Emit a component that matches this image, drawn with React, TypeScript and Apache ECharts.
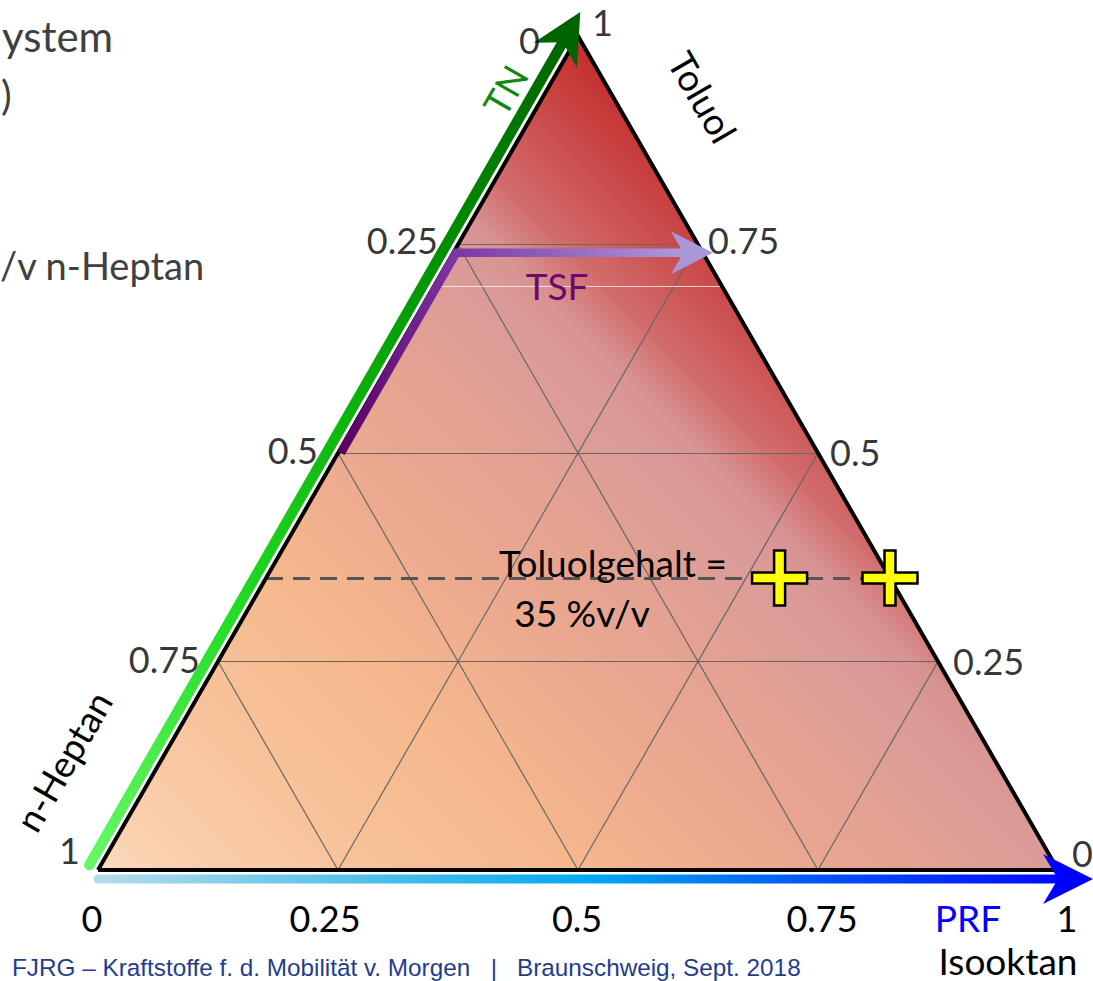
import React, { useEffect, useRef } from 'react';
import * as echarts from 'echarts';

const FONT = 'Lato, "Open Sans", sans-serif';
const FOOT_FONT = '"Liberation Sans", Arial, sans-serif';

// Composition given as [Toluol, Isooktan]; n-Heptan = 1 - Toluol - Isooktan
const cornerToluol = [0, 0, 1, 0];
const cornerIsooktan = [0, 1, 0, 0];
const gridLevels = [0.25, 0.5, 0.75];
const bottomTickLabels = ['0', '0.25', '0.5', '0.75', '1'];
const leftEdgeToluol = [1, 0.75, 0.5, 0.25, 0];
const leftEdgeLabels = ['0', '0.25', '0.5', '0.75', '1']; // n-Heptan share on TN axis
const rightEdgeToluol = [1, 0.75, 0.5, 0.25, 0];
const rightEdgeLabels = ['1', '0.75', '0.5', '0.25', '0']; // Toluol share
const toluolgehalt = 0.35;
const markerToluol = [0.35, 0.35];
const markerIsooktan = [0.535, 0.65];
const tsfToluol = [0.5, 0.74, 0.74];
const tsfIsooktan = [0, 0, 0.26];
const streakToluol = 0.7;

// styles (label placement)
const bottomLabelShift = [-6, -13, -1, 4, 9];
const leftLabelDist = [38, 20, 20, 18, 18];
const leftLabelDy = [4, -5, -3, -3, -20];
const rightLabelDist = [14, 10, 12, 15, 14];
const rightLabelDy = [-14, -5, -1, -1, -17];

const toXY = (t: number, i: number) => [i + t / 2, t];

type Stop = { offset: number; color: string };
type ArrowCfg = {
  pts: number[][];
  perp: number;
  dx: number;
  dy: number;
  ext: number;
  width: number;
  headL: number;
  headW: number;
  stops: Stop[];
  headColor: string;
  cap: string;
};

function makeArrow(cfg: ArrowCfg) {
  return (_p: any, api: any) => {
    const raw = cfg.pts.map((p) => api.coord(p));
    const d0x = raw[1][0] - raw[0][0];
    const d0y = raw[1][1] - raw[0][1];
    const l0 = Math.hypot(d0x, d0y);
    const ox = (d0y / l0) * cfg.perp + cfg.dx;
    const oy = (-d0x / l0) * cfg.perp + cfg.dy;
    const px = raw.map((c: number[]) => [c[0] + ox, c[1] + oy]);
    const n = px.length;
    const ux0 = px[n - 1][0] - px[n - 2][0];
    const uy0 = px[n - 1][1] - px[n - 2][1];
    const ul = Math.hypot(ux0, uy0);
    const ux = ux0 / ul;
    const uy = uy0 / ul;
    const tip = [px[n - 1][0] + ux * cfg.ext, px[n - 1][1] + uy * cfg.ext];
    const nx = -uy;
    const ny = ux;
    const L = cfg.headL;
    const W = cfg.headW / 2;
    const lineEnd = [tip[0] - ux * L * 0.6, tip[1] - uy * L * 0.6];
    const linePts = px.slice(0, n - 1).concat([lineEnd]);
    const head = [
      tip,
      [tip[0] - ux * L + nx * W, tip[1] - uy * L + ny * W],
      [tip[0] - ux * L * 0.7, tip[1] - uy * L * 0.7],
      [tip[0] - ux * L - nx * W, tip[1] - uy * L - ny * W],
    ];
    const grad = new echarts.graphic.LinearGradient(px[0][0], px[0][1], tip[0], tip[1], cfg.stops, true);
    return {
      type: 'group',
      children: [
        {
          type: 'polyline',
          shape: { points: linePts },
          style: { stroke: grad, lineWidth: cfg.width, fill: 'none', lineCap: cfg.cap, lineJoin: 'miter' },
        },
        { type: 'polygon', shape: { points: head }, style: { fill: cfg.headColor } },
      ],
    };
  };
}

function txt(text: string, x: number, y: number, size: number, color: string, opts: any = {}) {
  const align = opts.align || 'center';
  const vAlign = opts.vAlign || 'middle';
  return {
    type: 'text',
    x,
    y,
    rotation: opts.rotation || 0,
    z: 20,
    silent: true,
    style: {
      text,
      font: `${size}px ${opts.family || FONT}`,
      fill: color,
      align,
      textAlign: align,
      verticalAlign: vAlign,
      textVerticalAlign: vAlign,
    },
  };
}

export default function App() {
  const ref = useRef<HTMLDivElement>(null);
  useEffect(() => {
    if (!ref.current) return;
    const chart = echarts.init(ref.current, undefined, { renderer: 'svg' });

    const triangle = cornerToluol.map((t, k) => toXY(t, cornerIsooktan[k]));
    const gridSegments = gridLevels.flatMap((L) => [
      [toXY(L, 0), toXY(L, 1 - L)],
      [toXY(0, L), toXY(1 - L, L)],
      [toXY(0, 1 - L), toXY(1 - L, 0)],
    ]);
    const streak = [toXY(streakToluol, 0), toXY(streakToluol, 1 - streakToluol)];
    const dashed = [toXY(toluolgehalt, 0), toXY(toluolgehalt, 1 - toluolgehalt)];

    const fillStops: Stop[] = [
      { offset: 0, color: '#fcdabf' },
      { offset: 0.06, color: '#fad0ad' },
      { offset: 0.2, color: '#f8c39b' },
      { offset: 0.36, color: '#f5b88c' },
      { offset: 0.51, color: '#eba98f' },
      { offset: 0.62, color: '#e4a292' },
      { offset: 0.74, color: '#da9a98' },
      { offset: 0.78, color: '#d89292' },
      { offset: 0.83, color: '#d26c6c' },
      { offset: 0.9, color: '#cc5050' },
      { offset: 1, color: '#c42c2c' },
    ];

    const rich: any = {};
    bottomLabelShift.forEach((s, k) => {
      rich['s' + k] = {
        fontSize: 36,
        fontFamily: FONT,
        color: '#000',
        padding: s < 0 ? [0, -2 * s, 0, 0] : [0, 0, 0, 2 * s],
      };
    });

    const option: any = {
      animation: false,
      grid: { left: 98, right: 35, top: 36, bottom: 111 },
      xAxis: {
        type: 'value',
        min: 0,
        max: 1,
        interval: 0.25,
        axisLine: { show: false },
        axisTick: { show: false },
        splitLine: { show: false },
        axisLabel: {
          show: true,
          margin: 30,
          fontSize: 36,
          fontFamily: FONT,
          color: '#000',
          showMinLabel: true,
          showMaxLabel: true,
          formatter: (v: number) => {
            const k = Math.round(v * 4);
            return `{s${k}|${bottomTickLabels[k]}}`;
          },
          rich,
        },
      },
      yAxis: { type: 'value', min: 0, max: 1, show: false },
      series: [
        {
          type: 'custom',
          coordinateSystem: 'cartesian2d',
          silent: true,
          z: 1,
          data: [[0, 0]],
          renderItem: (_p: any, api: any) => {
            const pts = triangle.slice(0, 3).map((p) => api.coord(p));
            const bl = pts[0];
            const apex = pts[2];
            const half = ((apex[0] - bl[0]) - (apex[1] - bl[1])) / 2;
            const grad = new echarts.graphic.LinearGradient(bl[0], bl[1], bl[0] + half, bl[1] - half, fillStops, true);
            return { type: 'polygon', shape: { points: pts }, style: { fill: grad } };
          },
        },
        {
          type: 'lines',
          coordinateSystem: 'cartesian2d',
          silent: true,
          z: 2,
          lineStyle: { color: '#666666', width: 1.2, opacity: 1 },
          data: gridSegments.map((c) => ({ coords: c })),
        },
        {
          type: 'lines',
          coordinateSystem: 'cartesian2d',
          silent: true,
          z: 2,
          lineStyle: { color: '#ffffff', width: 1, opacity: 0.7 },
          data: [{ coords: streak }],
        },
        {
          type: 'lines',
          coordinateSystem: 'cartesian2d',
          silent: true,
          z: 3,
          lineStyle: { color: '#555555', width: 3, opacity: 1, type: [17, 10] },
          data: [{ coords: dashed }],
        },
        {
          type: 'line',
          silent: true,
          clip: false,
          z: 4,
          symbol: 'none',
          lineStyle: { color: '#000', width: 4, join: 'miter' },
          data: triangle,
        },
        {
          type: 'custom',
          coordinateSystem: 'cartesian2d',
          silent: true,
          z: 5,
          data: [[0, 0]],
          renderItem: makeArrow({
            pts: tsfToluol.map((t, k) => toXY(t, tsfIsooktan[k])),
            perp: 0,
            dx: 3,
            dy: 0,
            ext: 7,
            width: 8.5,
            headL: 42,
            headW: 43,
            stops: [
              { offset: 0, color: '#5a0062' },
              { offset: 0.45, color: '#7a34a4' },
              { offset: 1, color: '#b4a8e2' },
            ],
            headColor: '#a898da',
            cap: 'butt',
          }),
        },
        {
          type: 'custom',
          coordinateSystem: 'cartesian2d',
          silent: true,
          z: 6,
          data: [[0, 0]],
          renderItem: makeArrow({
            pts: [toXY(0, 0), toXY(1, 0)],
            perp: 10,
            dx: 0,
            dy: 0,
            ext: 22,
            width: 10.5,
            headL: 50,
            headW: 50,
            stops: [
              { offset: 0, color: '#66f866' },
              { offset: 0.3, color: '#22dc22' },
              { offset: 0.5, color: '#10b810' },
              { offset: 0.75, color: '#008a00' },
              { offset: 1, color: '#006000' },
            ],
            headColor: '#006400',
            cap: 'round',
          }),
        },
        {
          type: 'custom',
          coordinateSystem: 'cartesian2d',
          silent: true,
          z: 6,
          data: [[0, 0]],
          renderItem: makeArrow({
            pts: [toXY(0, 0), toXY(0, 1)],
            perp: -9,
            dx: 0,
            dy: 0,
            ext: 35,
            width: 9,
            headL: 50,
            headW: 50,
            stops: [
              { offset: 0, color: '#b4dcea' },
              { offset: 0.25, color: '#55c2ea' },
              { offset: 0.5, color: '#00a8f0' },
              { offset: 0.72, color: '#0055f6' },
              { offset: 1, color: '#0000ff' },
            ],
            headColor: '#0000ff',
            cap: 'round',
          }),
        },
        {
          type: 'scatter',
          silent: true,
          clip: false,
          z: 8,
          symbol: 'path://M40 0H60V40H100V60H60V100H40V60H0V40H40Z',
          symbolSize: 55,
          itemStyle: { color: '#ffff00', borderColor: '#000', borderWidth: 2.5, opacity: 1 },
          data: markerToluol.map((t, k) => toXY(t, markerIsooktan[k])),
        },
        {
          type: 'scatter',
          silent: true,
          clip: false,
          z: 9,
          symbolSize: 0,
          itemStyle: { color: 'transparent' },
          label: { show: true, formatter: '{b}', fontSize: 36, fontFamily: FONT, color: '#000' },
          data: leftEdgeToluol.map((t, k) => ({
            value: toXY(t, 0),
            name: leftEdgeLabels[k],
            label: { position: 'left', distance: leftLabelDist[k], offset: [0, leftLabelDy[k]] },
          })),
        },
        {
          type: 'scatter',
          silent: true,
          clip: false,
          z: 9,
          symbolSize: 0,
          itemStyle: { color: 'transparent' },
          label: { show: true, formatter: '{b}', fontSize: 36, fontFamily: FONT, color: '#000' },
          data: rightEdgeToluol.map((t, k) => ({
            value: toXY(t, 1 - t),
            name: rightEdgeLabels[k],
            label: { position: 'right', distance: rightLabelDist[k], offset: [0, rightLabelDy[k]] },
          })),
        },
      ],
      graphic: [
        txt('TN', 505, 90, 37, '#118811', { rotation: Math.PI / 3 }),
        txt('Toluol', 703, 97, 37, '#000', { rotation: -Math.PI / 3 }),
        txt('n-Heptan', 63, 761, 37, '#000', { rotation: Math.PI / 3 }),
        txt('PRF', 968, 917, 37, '#0000ff'),
        txt('Isooktan', 1008, 960, 37, '#000'),
        txt('TSF', 557, 285, 37, '#6b0a6b'),
        txt('Toluolgehalt =', 613, 562, 37, '#000'),
        txt('35 %v/v', 582, 612, 37, '#000'),
        txt('ystem', 2, 36, 42, '#404040', { align: 'left' }),
        txt(')', 1, 95, 40, '#404040', { align: 'left' }),
        txt('/v n-Heptan', 0, 265, 38, '#404040', { align: 'left' }),
        txt('FJRG – Kraftstoffe f. d. Mobilität v. Morgen', 12, 955, 24.3, '#1f3d8f', {
          align: 'left',
          vAlign: 'top',
          family: FOOT_FONT,
        }),
        txt('|', 494, 955, 24.3, '#1f3d8f', { align: 'center', vAlign: 'top', family: FOOT_FONT }),
        txt('Braunschweig, Sept. 2018', 517, 955, 24.3, '#1f3d8f', {
          align: 'left',
          vAlign: 'top',
          family: FOOT_FONT,
        }),
      ],
    };
    chart.setOption(option);
    return () => chart.dispose();
  }, []);
  return <div ref={ref} style={{ position: 'absolute', left: 0, top: 0, width: 1093, height: 981 }} />;
}
